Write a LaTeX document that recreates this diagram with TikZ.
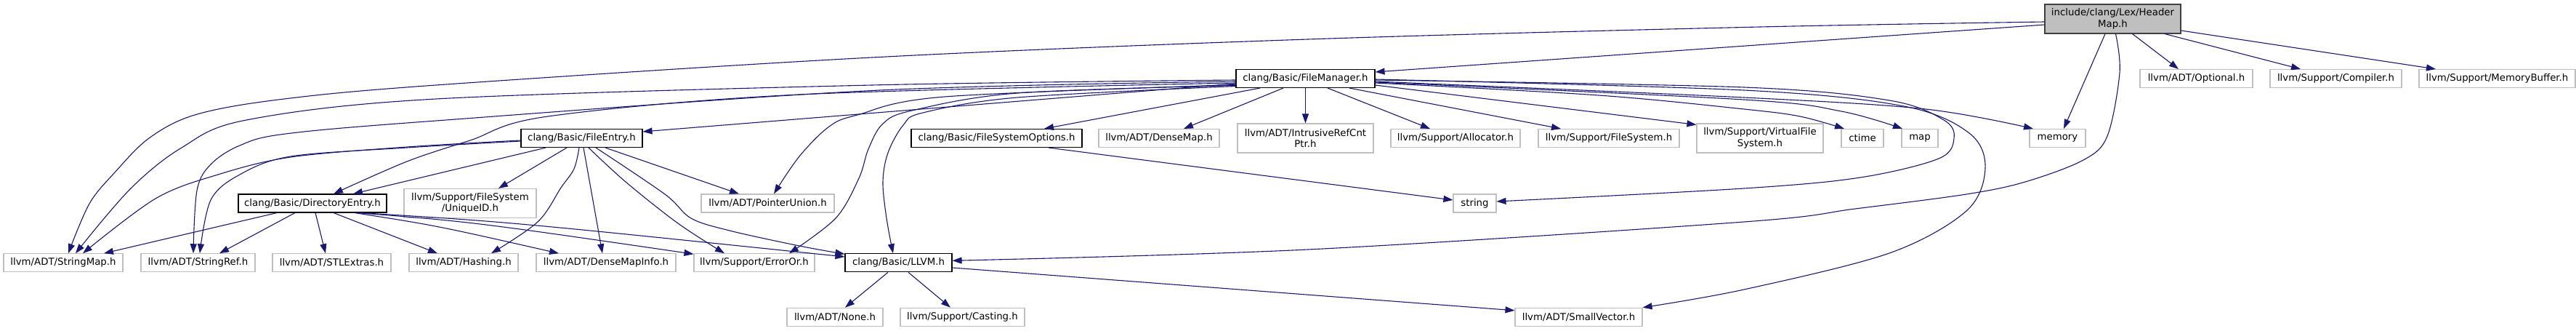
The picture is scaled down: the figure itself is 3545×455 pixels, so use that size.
\documentclass[tikz,border=0pt]{standalone}
\usepackage{fontspec}
\setmainfont{DejaVu Sans}
\usetikzlibrary{calc,arrows.meta}
\definecolor{edgec}{HTML}{191970}
\definecolor{grayb}{HTML}{BFBFBF}
\definecolor{hmb}{HTML}{404040}
\begin{document}
\begin{tikzpicture}[x=1pt,y=-1pt,
  box/.style={draw=grayb,line width=1.1pt,rectangle,inner sep=0pt,minimum height=25pt,align=center,font=\fontsize{13.3}{15.5}\selectfont},
  doc/.style={box,draw=black},
  e/.style={draw=edgec,line width=1.1pt,-{Triangle[length=13pt,width=9pt]}},
  sm/.style={smooth,tension=0.55}]
\useasboundingbox[fill=white] (0,0) rectangle (3545,455);
% nodes
\node[box,fill=grayb,draw=hmb,minimum width=187pt,minimum height=40pt] (HM) at (2907.5,26) {include/clang/Lex/Header\\Map.h};
\node[doc,minimum width=191pt] (FM) at (1796.5,108) {clang/Basic/FileManager.h};
\node[box,minimum width=155pt] (Opt) at (3022.5,108) {llvm/ADT/Optional.h};
\node[box,minimum width=181pt] (Comp) at (3214.5,108) {llvm/Support/Compiler.h};
\node[box,minimum width=215pt] (MB) at (3436.5,108) {llvm/Support/MemoryBuffer.h};
\node[doc,minimum width=167pt] (FE) at (800.5,190) {clang/Basic/FileEntry.h};
\node[doc,minimum width=235pt] (FSO) at (1371.5,190) {clang/Basic/FileSystemOptions.h};
\node[box,minimum width=166pt] (DM) at (1595,190) {llvm/ADT/DenseMap.h};
\node[box,minimum width=187pt,minimum height=40pt] (IRC) at (1796.5,190) {llvm/ADT/IntrusiveRefCnt\\Ptr.h};
\node[box,minimum width=178pt] (Alloc) at (2003,190) {llvm/Support/Allocator.h};
\node[box,minimum width=194pt] (FS) at (2214,190) {llvm/Support/FileSystem.h};
\node[box,minimum width=174pt,minimum height=40pt] (VFS) at (2422,190) {llvm/Support/VirtualFile\\System.h};
\node[box,minimum width=58pt] (ctime) at (2563,190) {ctime};
\node[box,minimum width=50pt] (map) at (2642,190) {map};
\node[box,minimum width=77pt] (memory) at (2831.5,190) {memory};
\node[doc,minimum width=204pt] (DE) at (430,279.5) {clang/Basic/DirectoryEntry.h};
\node[box,minimum width=182pt,minimum height=40pt] (UID) at (647,279.5) {llvm/Support/FileSystem\\/UniqueID.h};
\node[box,minimum width=183pt] (PU) at (1056.5,279.5) {llvm/ADT/PointerUnion.h};
\node[box,minimum width=59pt] (string) at (2029.5,279.5) {string};
\node[box,minimum width=164pt] (SM) at (87,361.3) {llvm/ADT/StringMap.h};
\node[box,minimum width=157pt] (SR) at (272.5,361.3) {llvm/ADT/StringRef.h};
\node[box,minimum width=163pt] (STL) at (456.5,361.3) {llvm/ADT/STLExtras.h};
\node[box,minimum width=150pt] (Hash) at (638,361.3) {llvm/ADT/Hashing.h};
\node[box,minimum width=192pt] (DMI) at (834,361.3) {llvm/ADT/DenseMapInfo.h};
\node[box,minimum width=166pt] (EO) at (1038,361.3) {llvm/Support/ErrorOr.h};
\node[doc,minimum width=147pt] (LLVM) at (1236.5,361.3) {clang/Basic/LLVM.h};
\node[box,minimum width=132pt] (None) at (1149,435.8) {llvm/ADT/None.h};
\node[box,minimum width=171pt] (Cast) at (1324.5,435.8) {llvm/Support/Casting.h};
\node[box,minimum width=175pt] (SV) at (2172.5,435.8) {llvm/ADT/SmallVector.h};
% HeaderMap.h
\draw[e] ($(HM.west)+(0,8)$) -- ($(FM.east)+(0,-9)$);
\draw[e] plot[sm] coordinates {($(HM.west)+(0,4)$) (2400,37.5) (1800,54) (1200,79) (600,117) (383,137) (268,158) (205,190) (158,237) (123,280) ($(SM.north)+(7,0)$)};
\draw[e] ($(HM.south)+(-10.5,0)$) -- ($(memory.north)+(8.5,0)$);
\draw[e] plot[sm] coordinates {($(HM.south)+(4,0)$) (2917,100) (2900,187) (2867,220) (2787,250) (2706,267) (2553,287) (2400,305) (1800,343) ($(LLVM.east)+(0,-3)$)};
\draw[e] ($(HM.south)+(27,0)$) -- ($(Opt.north)+(-24.5,0)$);
\draw[e] ($(HM.south)+(71.5,0)$) -- ($(Comp.north)+(-48.5,0)$);
\draw[e] ($(HM.east)+(0,16)$) -- ($(MB.north)+(-84.5,0)$);
% FileManager.h
\draw[e] plot[sm] coordinates {($(FM.west)+(0,2)$) (1200,117) (600,136) (339,165) (250,203) (179,260) ($(SM.north)+(17,0)$)};
\draw[e] plot[sm] coordinates {($(FM.west)+(0,4)$) (1200,124.5) (600,166) (393,184) (330,200) (290,226) (271,262) ($(SR.north)+(-6.5,0)$)};
\draw[e] plot[sm] coordinates {($(FM.west)+(0,6)$) (1100,130) (754,160) (647,193) (560,222) ($(DE.north)+(29,0)$)};
\draw[e] ($(FM.west)+(0,7)$) -- ($(FE.east)+(0,-9)$);
\draw[e] plot[sm] coordinates {($(FM.west)+(0,8.5)$) (1300,133) (1180,158) (1141,174) (1100,215) ($(PU.north)+(8.5,0)$)};
\draw[e] plot[sm] coordinates {($(FM.west)+(0,9.5)$) (1400,128) (1255,152) (1215,170) (1195,205) (1182,245) (1150,300) ($(EO.north)+(48,0)$)};
\draw[e] plot[sm] coordinates {($(FM.west)+(0,10.5)$) (1400,134) (1270,155) (1243,172) (1222,210) (1215,250) (1220,300) ($(LLVM.north)+(-7.5,0)$)};
\draw[e] ($(FM.south)+(-62.5,0)$) -- ($(FSO.north)+(65.5,0)$);
\draw[e] ($(FM.south)+(-30.5,0)$) -- ($(DM.north)+(34,0)$);
\draw[e] (FM.south) -- (IRC.north);
\draw[e] ($(FM.south)+(30.5,0)$) -- ($(Alloc.north)+(-35,0)$);
\draw[e] ($(FM.south)+(60.5,0)$) -- ($(FS.north)+(-66,0)$);
\draw[e] ($(FM.east)+(0,9)$) -- ($(VFS.north west)+(0,2)$);
\draw[e] plot[sm] coordinates {($(FM.east)+(0,6)$) (2200,131) (2400,150) (2477,160) ($(ctime.north)+(-25,0)$)};
\draw[e] plot[sm] coordinates {($(FM.east)+(0,5)$) (2400,137) (2534,153) ($(map.north)+(-24,0)$)};
\draw[e] plot[sm] coordinates {($(FM.east)+(0,4)$) (2400,134) (2650,150) ($(memory.north)+(-33.5,0)$)};
\draw[e] plot[sm] coordinates {($(FM.east)+(0,2)$) (2400,120) (2600,138) (2675,165) (2689,190) (2668,218) (2560,244) (2400,259) ($(string.east)+(0,-2.5)$)};
\draw[e] plot[sm] coordinates {($(FM.east)+(0,1)$) (2400,124) (2620,146) (2710,183) (2732,231) (2706,290) (2600,348) (2400,398) (SV.north east)};
% FileSystemOptions.h
\draw[e] ($(FSO.south)+(71.5,0)$) -- ($(string.west)+(0,-4.5)$);
% FileEntry.h
\draw[e] ($(FE.south)+(-49.5,0)$) -- ($(DE.north)+(56,0)$);
\draw[e] ($(FE.south)+(-20.5,0)$) -- ($(UID.north)+(39,0)$);
\draw[e] plot[sm] coordinates {($(FE.south)+(-3.5,0)$) (790,232) (772,258) (740,305) ($(Hash.north)+(38,0)$)};
\draw[e] ($(FE.south)+(2.5,0)$) -- ($(DMI.north)+(-5,0)$);
\draw[e] plot[sm] coordinates {($(FE.south)+(9.5,0)$) (861,250) (933,307) ($(EO.north)+(-41,0)$)};
\draw[e] plot[sm] coordinates {($(FE.south)+(19.5,0)$) (915,267) (951,300) (1004,317) (1100,338) ($(LLVM.north west)+(0,1)$)};
\draw[e] ($(FE.south)+(32.5,0)$) -- ($(PU.north)+(-39.5,0)$);
\draw[e] plot[sm] coordinates {($(FE.west)+(0,3)$) (560,202) (400,216) (300,240) (214,273) ($(SM.north)+(27,0)$)};
\draw[e] plot[sm] coordinates {($(FE.west)+(0,4)$) (560,203) (400,215) (330,240) (290,275) ($(SR.north)+(2.5,0)$)};
% DirectoryEntry.h
\draw[e] ($(DE.south)+(-49,0)$) -- ($(SM.north)+(56,0)$);
\draw[e] ($(DE.south)+(-24,0)$) -- ($(SR.north)+(29.5,0)$);
\draw[e] ($(DE.south)+(4,0)$) -- ($(STL.north)+(-8.5,0)$);
\draw[e] ($(DE.south)+(29,0)$) -- ($(Hash.north)+(-36,0)$);
\draw[e] ($(DE.south)+(58,0)$) .. controls (600,310) .. ($(DMI.north)+(-65,0)$);
\draw[e] ($(DE.south)+(62,0)$) .. controls (650,305) .. ($(EO.north west)+(0,1)$);
\draw[e] ($(DE.south)+(66,0)$) .. controls (700,305) .. ($(LLVM.west)+(0,-8.3)$);
% LLVM.h
\draw[e] ($(LLVM.south)+(-14.5,0)$) -- ($(None.north)+(14,0)$);
\draw[e] ($(LLVM.south)+(13.5,0)$) -- ($(Cast.north)+(-16.5,0)$);
\draw[e] ($(LLVM.east)+(0,6.7)$) -- ($(SV.west)+(0,-9)$);
\end{tikzpicture}
\end{document}
